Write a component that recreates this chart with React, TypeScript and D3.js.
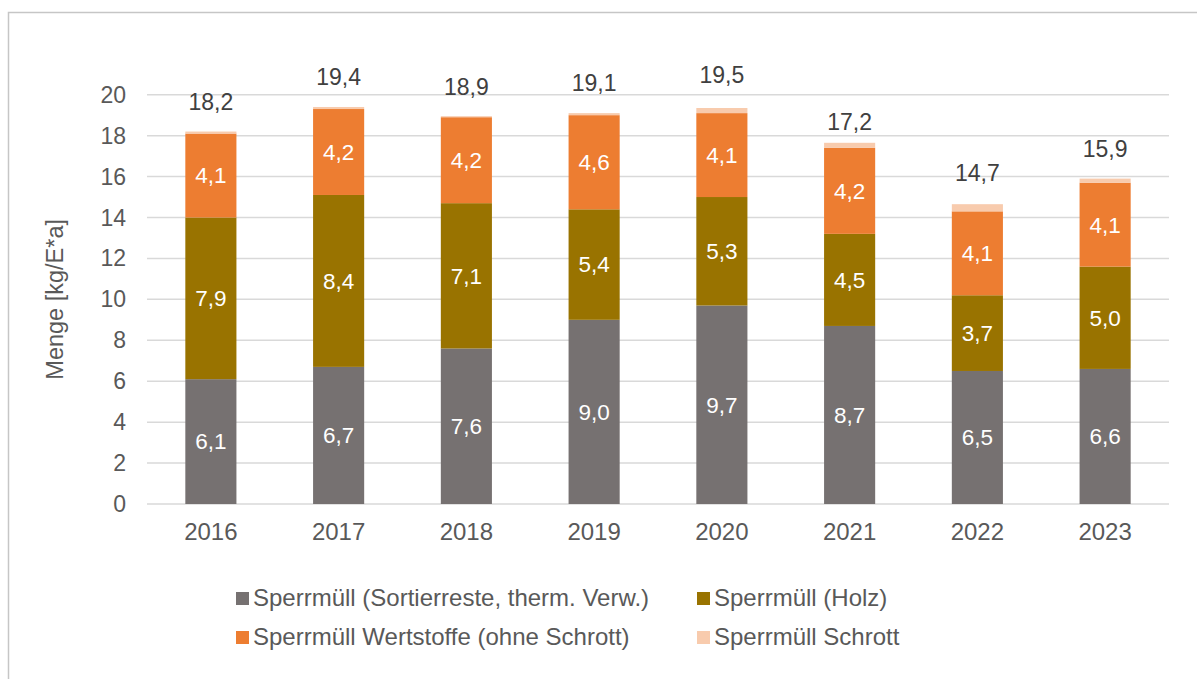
import * as d3 from "d3";
import { useEffect, useRef } from "react";

// data
const years = ["2016", "2017", "2018", "2019", "2020", "2021", "2022", "2023"];
const restValues = [6.1, 6.7, 7.6, 9.0, 9.7, 8.7, 6.5, 6.6];
const holzValues = [7.9, 8.4, 7.1, 5.4, 5.3, 4.5, 3.7, 5.0];
const wertValues = [4.1, 4.2, 4.2, 4.6, 4.1, 4.2, 4.1, 4.1];
const schrottValues = [0.1, 0.1, 0.05, 0.1, 0.25, 0.25, 0.35, 0.2];
const totals = [18.2, 19.4, 18.9, 19.1, 19.5, 17.2, 14.7, 15.9];
const yTicks = [0, 2, 4, 6, 8, 10, 12, 14, 16, 18, 20];

const seriesNames = [
  "Sperrmüll (Sortierreste, therm. Verw.)",
  "Sperrmüll (Holz)",
  "Sperrmüll Wertstoffe (ohne Schrott)",
  "Sperrmüll Schrott",
];
const colors = ["#767171", "#997300", "#ED7D31", "#F8CBAD"];

export default function App() {
  const ref = useRef<SVGSVGElement>(null);

  useEffect(() => {
    document.body.style.margin = "0";
    document.body.style.overflow = "hidden";
    const svg = d3.select(ref.current);
    svg.selectAll("*").remove();

    const font = "'Liberation Sans', Arial, sans-serif";
    const fmt = (v: number) => d3.format(".1f")(v).replace(".", ",");

    const left = 147;
    const right = 1169;
    const top = 94.7;
    const bottom = 504;

    // outer frame
    svg
      .append("rect")
      .attr("x", 8.5)
      .attr("y", 12.5)
      .attr("width", 1300)
      .attr("height", 800)
      .attr("fill", "#fff")
      .attr("stroke", "#C6C6C6")
      .attr("stroke-width", 1.5);

    const x = d3.scaleBand().domain(years).range([left, right]).paddingInner(0.6).paddingOuter(0.3);
    const y = d3.scaleLinear().domain([0, 20]).range([bottom, top]);

    // gridlines
    svg
      .append("g")
      .selectAll("line")
      .data(yTicks)
      .enter()
      .append("line")
      .attr("x1", left)
      .attr("x2", right)
      .attr("y1", (d) => y(d))
      .attr("y2", (d) => y(d))
      .attr("stroke", "#D9D9D9")
      .attr("stroke-width", 1.5);

    // y tick labels
    svg
      .append("g")
      .selectAll("text")
      .data(yTicks)
      .enter()
      .append("text")
      .attr("x", 126)
      .attr("y", (d) => y(d))
      .attr("dy", "0.35em")
      .attr("text-anchor", "end")
      .attr("font-family", font)
      .attr("font-size", 23)
      .attr("fill", "#595959")
      .text((d) => d);

    // y title
    svg
      .append("text")
      .attr("transform", "translate(63," + (top + bottom) / 2 + ") rotate(-90)")
      .attr("text-anchor", "middle")
      .attr("font-family", font)
      .attr("font-size", 23.5)
      .attr("fill", "#595959")
      .text("Menge [kg/E*a]");

    // stack
    const rows = years.map((yr, i) => ({
      year: yr,
      s0: restValues[i],
      s1: holzValues[i],
      s2: wertValues[i],
      s3: schrottValues[i],
    }));
    const stack = d3.stack<any>().keys(["s0", "s1", "s2", "s3"])(rows);

    stack.forEach((layer, li) => {
      const g = svg.append("g");
      g.selectAll("rect")
        .data(layer)
        .enter()
        .append("rect")
        .attr("x", (d: any) => x(d.data.year)!)
        .attr("width", x.bandwidth())
        .attr("y", (d) => y(d[1]))
        .attr("height", (d) => y(d[0]) - y(d[1]))
        .attr("fill", colors[li]);

      if (li < 3) {
        g.selectAll("text")
          .data(layer)
          .enter()
          .append("text")
          .attr("x", (d: any) => x(d.data.year)! + x.bandwidth() / 2)
          .attr("y", (d) => y((d[0] + d[1]) / 2))
          .attr("dy", "0.35em")
          .attr("text-anchor", "middle")
          .attr("font-family", font)
          .attr("font-size", 22.5)
          .attr("fill", "#FFFFFF")
          .text((d) => fmt(d[1] - d[0]));
      }
    });

    // totals
    svg
      .append("g")
      .selectAll("text")
      .data(totals)
      .enter()
      .append("text")
      .attr("x", (d, i) => x(years[i])! + x.bandwidth() / 2)
      .attr("y", (d) => y(d) - 30)
      .attr("dy", "0.35em")
      .attr("text-anchor", "middle")
      .attr("font-family", font)
      .attr("font-size", 23)
      .attr("fill", "#404040")
      .text((d) => fmt(d));

    // x labels
    svg
      .append("g")
      .selectAll("text")
      .data(years)
      .enter()
      .append("text")
      .attr("x", (d) => x(d)! + x.bandwidth() / 2)
      .attr("y", 532)
      .attr("dy", "0.35em")
      .attr("text-anchor", "middle")
      .attr("font-family", font)
      .attr("font-size", 24)
      .attr("fill", "#595959")
      .text((d) => d);

    // legend
    const legendPos = [
      [236, 598],
      [697, 598],
      [236, 637],
      [697, 637],
    ];
    seriesNames.forEach((name, i) => {
      const [lx, ly] = legendPos[i];
      svg
        .append("rect")
        .attr("x", lx)
        .attr("y", ly - 6)
        .attr("width", 13)
        .attr("height", 13)
        .attr("fill", colors[i]);
      svg
        .append("text")
        .attr("x", lx + 17)
        .attr("y", ly)
        .attr("dy", "0.35em")
        .attr("font-family", font)
        .attr("font-size", 24)
        .attr("fill", "#595959")
        .text(name);
    });
  }, []);

  return <svg ref={ref} width={1197} height={679} style={{ display: "block" }}></svg>;
}
